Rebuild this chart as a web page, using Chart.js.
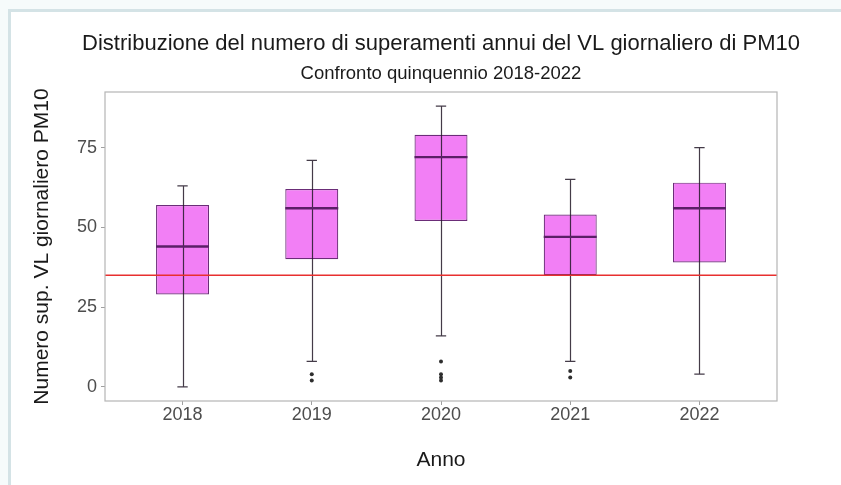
<!DOCTYPE html>
<html>
<head>
<meta charset="utf-8">
<script src="https://cdn.jsdelivr.net/npm/chart.js@4.4.1/dist/chart.umd.min.js"></script>
<style>
  html, body { margin: 0; padding: 0; background: #f6fbfb; overflow: hidden; }
  .frame {
    position: absolute; left: 8px; top: 9px; width: 860px; height: 500px;
    border-left: 3px solid #d4e3e6; border-top: 3px solid #d4e3e6;
    background: #fff;
  }
  #chart { position: absolute; left: 0; top: 0; }
</style>
</head>
<body>
<div class="frame"></div>
<canvas id="chart" width="841" height="485"></canvas>
<script>
// dati (numero di superamenti per stazione)
const years = ['2018', '2019', '2020', '2021', '2022'];
const whiskerLow = [0, 8, 16, 8, 4];
const q1 = [29, 40, 52, 35, 39];
const median = [44, 56, 72, 47, 56];
const q3 = [57, 62, 79, 54, 64];
const whiskerHigh = [63, 71, 88, 65, 75];
const outliers = [[], [4, 2], [8, 4, 3, 2], [5, 3], []];
const limitValue = 35;
const yTicks = [0, 25, 50, 75];

const titleText = 'Distribuzione del numero di superamenti annui del VL giornaliero di PM10';
const subtitleText = 'Confronto quinquennio 2018-2022';

const boxData = years.map((y, i) => ({ x: i + 1, y: [q1[i], q3[i]] }));
const outlierData = [];
outliers.forEach((list, i) => list.forEach(v => outlierData.push({ x: i + 1, y: v })));

const fontFamily = '"Liberation Sans", Arial, sans-serif';
Chart.defaults.font.family = fontFamily;

const boxExtras = {
  id: 'boxExtras',
  afterDatasetsDraw(chart) {
    const { ctx, chartArea, scales: { x, y } } = chart;
    const bars = chart.getDatasetMeta(0).data;
    ctx.save();
    years.forEach((yr, i) => {
      const cx = Math.round(x.getPixelForValue(i + 1)) + 0.5;
      const capL = x.getPixelForValue(i + 1 - 0.04);
      const capR = x.getPixelForValue(i + 1 + 0.04);
      const lo = y.getPixelForValue(whiskerLow[i]);
      const hi = y.getPixelForValue(whiskerHigh[i]);
      ctx.strokeStyle = 'rgba(35,25,40,0.85)';
      ctx.lineWidth = 1.2;
      ctx.beginPath();
      ctx.moveTo(cx, lo); ctx.lineTo(cx, hi);
      ctx.moveTo(capL, lo); ctx.lineTo(capR, lo);
      ctx.moveTo(capL, hi); ctx.lineTo(capR, hi);
      ctx.stroke();

      const bar = bars[i];
      const ym = y.getPixelForValue(median[i]);
      ctx.strokeStyle = '#5b1f67';
      ctx.lineWidth = 2.4;
      ctx.beginPath();
      ctx.moveTo(bar.x - bar.width / 2, ym);
      ctx.lineTo(bar.x + bar.width / 2, ym);
      ctx.stroke();
    });

    // valore limite
    const yl = y.getPixelForValue(limitValue);
    ctx.strokeStyle = '#e8302f';
    ctx.lineWidth = 1.3;
    ctx.beginPath();
    ctx.moveTo(chartArea.left, yl);
    ctx.lineTo(chartArea.right, yl);
    ctx.stroke();

    // bordo pannello
    ctx.strokeStyle = '#b5b5b5';
    ctx.lineWidth = 1.2;
    ctx.strokeRect(chartArea.left, chartArea.top, chartArea.right - chartArea.left, chartArea.bottom - chartArea.top);
    ctx.restore();
  },
  // titolo e sottotitolo centrati sul pannello
  afterDraw(chart) {
    const { ctx, chartArea } = chart;
    const cx = (chartArea.left + chartArea.right) / 2;
    ctx.save();
    ctx.fillStyle = '#1a1a1a';
    ctx.textAlign = 'center';
    ctx.textBaseline = 'middle';
    ctx.font = '22px ' + fontFamily;
    ctx.fillText(titleText, cx, 44);
    ctx.font = '18.5px ' + fontFamily;
    ctx.fillText(subtitleText, cx, 74);
    ctx.restore();
  }
};

new Chart(document.getElementById('chart'), {
  type: 'bar',
  data: {
    datasets: [
      {
        type: 'bar',
        data: boxData,
        backgroundColor: '#f27ff5',
        borderColor: '#6b2d78',
        borderWidth: 1.2,
        borderSkipped: false,
        categoryPercentage: 1,
        barPercentage: 0.41
      },
      {
        type: 'scatter',
        data: outlierData,
        backgroundColor: '#2e2e2e',
        borderWidth: 0,
        pointRadius: 2
      }
    ]
  },
  options: {
    responsive: false,
    animation: false,
    devicePixelRatio: 1,
    layout: { padding: { left: 0, right: 64, top: 92, bottom: 0 } },
    plugins: {
      legend: { display: false },
      tooltip: { enabled: false }
    },
    scales: {
      x: {
        type: 'linear',
        min: 0.4,
        max: 5.6,
        offset: false,
        afterBuildTicks: s => { s.ticks = years.map((y, i) => ({ value: i + 1 })); },
        afterFit: s => { s.height = 84; },
        ticks: {
          callback: v => years[v - 1],
          color: '#4d4d4d',
          font: { size: 18 },
          padding: -1,
          autoSkip: false,
          maxRotation: 0
        },
        grid: { offset: false, drawOnChartArea: false, drawTicks: true, tickLength: 4, color: '#a0a0a0' },
        border: { display: false },
        title: {
          display: true,
          text: 'Anno',
          color: '#1a1a1a',
          font: { size: 21 },
          padding: { top: 0, bottom: 12.4 }
        }
      },
      y: {
        min: -4.4,
        max: 92.4,
        afterBuildTicks: s => { s.ticks = yTicks.map(v => ({ value: v })); },
        afterFit: s => { s.width = 105; },
        ticks: { color: '#4d4d4d', font: { size: 18 }, padding: 4 },
        grid: { drawOnChartArea: false, drawTicks: true, tickLength: 4, color: '#a0a0a0' },
        border: { display: false },
        title: {
          display: true,
          text: 'Numero sup. VL giornaliero PM10',
          color: '#1a1a1a',
          font: { size: 21 },
          padding: { top: 30, bottom: 0 }
        }
      }
    }
  },
  plugins: [boxExtras]
});
</script>
</body>
</html>
